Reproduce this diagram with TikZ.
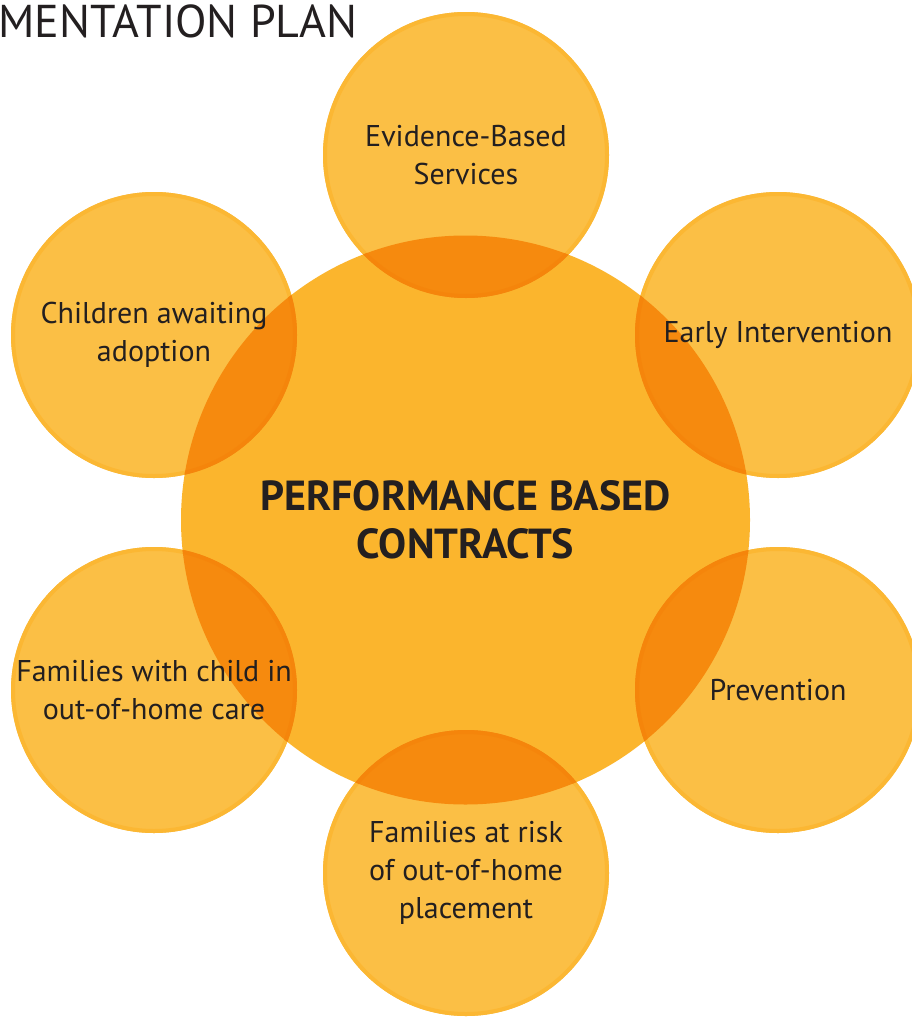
\documentclass[tikz,border=0pt]{standalone}
\usepackage{fontspec}
\setmainfont{PT Sans}
\definecolor{hubfill}{HTML}{FBB52D}
\definecolor{petalfill}{HTML}{FBBF45}
\definecolor{petalrim}{HTML}{FBB733}
\definecolor{lensfill}{HTML}{F68A0E}
\definecolor{lensrim}{HTML}{F5850B}
\definecolor{inktext}{HTML}{231F20}

\begin{document}
\begin{tikzpicture}[x=1pt,y=-1pt,
    hub/.style={circle,fill=hubfill,minimum size=2*\hubradius pt,inner sep=0,text=inktext,align=center},
    petal/.style={circle,fill=petalfill,minimum size=2*\petalradius pt,inner sep=0,text=inktext,align=center,
      path picture={
        % rim, then the part that lies over the hub
        \draw[petalrim,line width=8pt] (path picture bounding box.center) circle[radius=\petalradius pt];
        \fill[lensfill] (hub.center) circle[radius=\hubradius pt];
        \begin{scope}
          \clip (hub.center) circle[radius=\hubradius pt];
          \draw[lensrim,line width=8pt] (path picture bounding box.center) circle[radius=\petalradius pt];
        \end{scope}
      }}]
    \pgfmathsetmacro{\pagewidth}{912}
    \pgfmathsetmacro{\pageheight}{1017}
    \pgfmathsetmacro{\hubradius}{284.5}
    \pgfmathsetmacro{\petalradius}{143}
    \pgfmathsetmacro{\hubx}{465.5}
    \pgfmathsetmacro{\huby}{520}
    \pgfmathsetmacro{\leftx}{154}
    \pgfmathsetmacro{\rightx}{778}
    \providecommand{\hubfontsize}{\fontsize{42pt}{48pt}\selectfont}
    \providecommand{\petalfontsize}{\fontsize{30pt}{38pt}\selectfont}
    \providecommand{\titlefontsize}{\fontsize{46pt}{46pt}\selectfont}
    \clip (0,0) rectangle (\pagewidth,\pageheight);
    \fill[white] (0,0) rectangle (\pagewidth,\pageheight);
    \node[hub,font=\hubfontsize\bfseries] (hub) at (\hubx,\huby) {PERFORMANCE BASED\\CONTRACTS};
    \begin{scope}[font=\petalfontsize]
    \node[petal] (evidence) at (466,155) {Evidence-Based\\Services};
    \node[petal] (adoption) at (\leftx,335) {Children awaiting\\adoption};
    \node[petal] (early) at (\rightx,335) {Early Intervention};
    \node[petal] (outofhome) at (\leftx,690) {Families with child in\\out-of-home care};
    \node[petal] (prevention) at (\rightx,690) {Prevention};
    \node[petal] (atrisk) at (466,873) {Families at risk\\of out-of-home\\placement};
    \end{scope}
    \node[anchor=base west,inner sep=0,text=inktext,font=\titlefontsize] (plantitle) at (-2,37) {MENTATION PLAN};
\end{tikzpicture}
\end{document}
